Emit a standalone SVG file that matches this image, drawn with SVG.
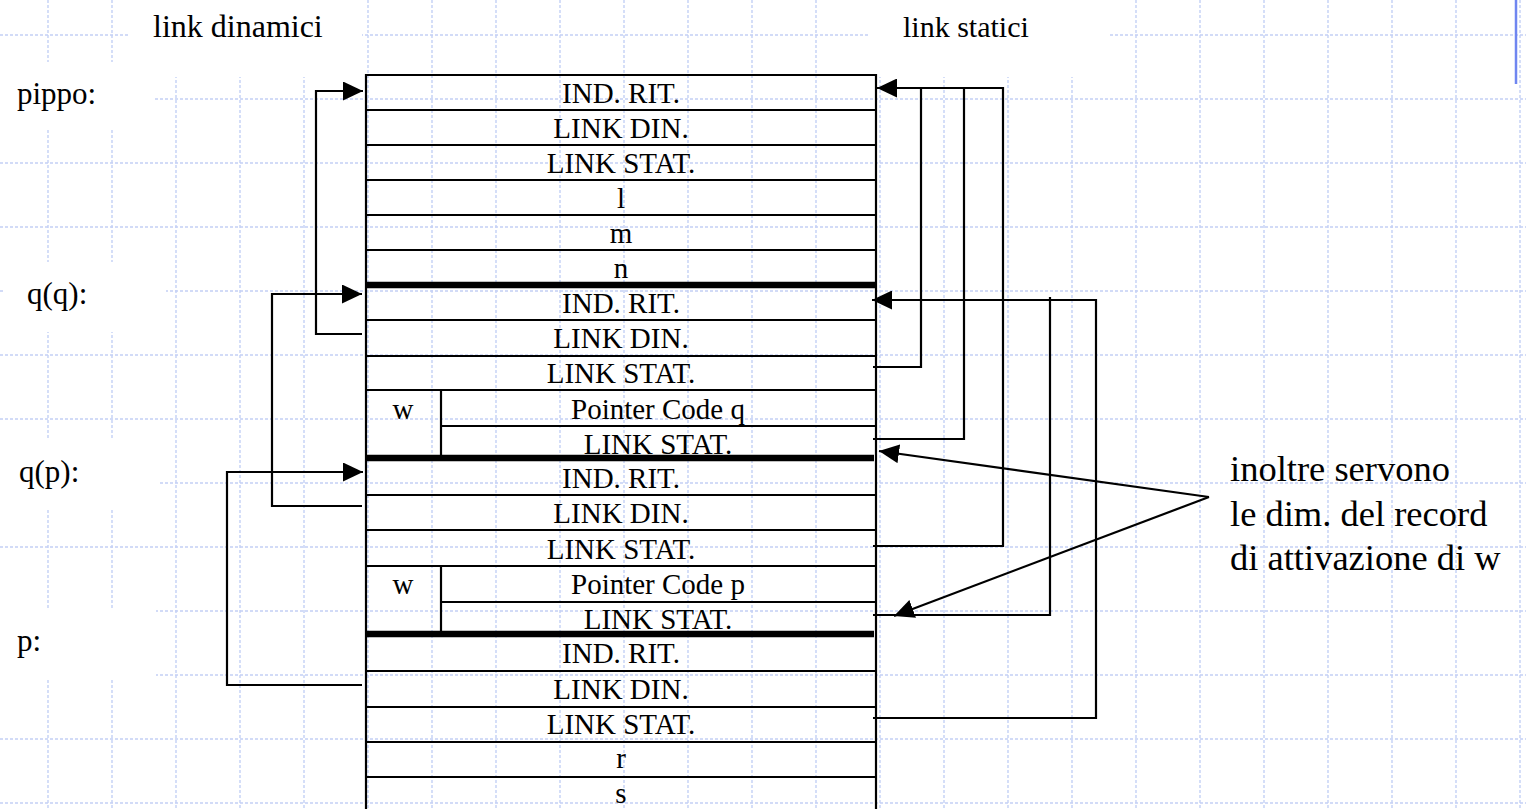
<svg xmlns="http://www.w3.org/2000/svg" width="1526" height="809" viewBox="0 0 1526 809">
  <defs>
    <style>
      .grid line { stroke: #c3d0f5; stroke-width: 1.4; stroke-dasharray: 3 2; }
      .mask { fill: #ffffff; stroke: none; }
      .cell { stroke: #000; stroke-width: 2.2; fill: none; }
      .thick { stroke: #000; stroke-width: 6.5; fill: none; }
      .t { font-family: "Liberation Serif", "Times New Roman", serif; font-size: 29px; fill: #000; text-anchor: middle; }
      .lbl { font-family: "Liberation Serif", "Times New Roman", serif; font-size: 31px; fill: #000; }
      .note { font-family: "Liberation Serif", "Times New Roman", serif; font-size: 36.5px; fill: #000; }
      .wire { stroke: #000; stroke-width: 2.2; fill: none; }
    </style>
    <marker id="head" markerUnits="userSpaceOnUse" markerWidth="20" markerHeight="19" refX="20" refY="9.5" orient="auto">
      <path d="M0,0 L20,9.5 L0,19 Z" fill="#000"/>
    </marker>
  </defs>

  <rect width="1526" height="809" fill="#ffffff"/>

  <!-- background grid -->
  <g id="grid" class="grid">
    <line x1="48" y1="0" x2="48" y2="809"/>
    <line x1="112" y1="0" x2="112" y2="809"/>
    <line x1="176" y1="0" x2="176" y2="809"/>
    <line x1="240" y1="0" x2="240" y2="809"/>
    <line x1="304" y1="0" x2="304" y2="809"/>
    <line x1="368" y1="0" x2="368" y2="809"/>
    <line x1="432" y1="0" x2="432" y2="809"/>
    <line x1="496" y1="0" x2="496" y2="809"/>
    <line x1="560" y1="0" x2="560" y2="809"/>
    <line x1="624" y1="0" x2="624" y2="809"/>
    <line x1="688" y1="0" x2="688" y2="809"/>
    <line x1="752" y1="0" x2="752" y2="809"/>
    <line x1="816" y1="0" x2="816" y2="809"/>
    <line x1="880" y1="0" x2="880" y2="809"/>
    <line x1="944" y1="0" x2="944" y2="809"/>
    <line x1="1008" y1="0" x2="1008" y2="809"/>
    <line x1="1072" y1="0" x2="1072" y2="809"/>
    <line x1="1136" y1="0" x2="1136" y2="809"/>
    <line x1="1200" y1="0" x2="1200" y2="809"/>
    <line x1="1264" y1="0" x2="1264" y2="809"/>
    <line x1="1328" y1="0" x2="1328" y2="809"/>
    <line x1="1392" y1="0" x2="1392" y2="809"/>
    <line x1="1456" y1="0" x2="1456" y2="809"/>
    <line x1="1520" y1="0" x2="1520" y2="809"/>
    <line x1="0" y1="35" x2="1526" y2="35"/>
    <line x1="0" y1="99" x2="1526" y2="99"/>
    <line x1="0" y1="163" x2="1526" y2="163"/>
    <line x1="0" y1="227" x2="1526" y2="227"/>
    <line x1="0" y1="291" x2="1526" y2="291"/>
    <line x1="0" y1="355" x2="1526" y2="355"/>
    <line x1="0" y1="419" x2="1526" y2="419"/>
    <line x1="0" y1="483" x2="1526" y2="483"/>
    <line x1="0" y1="547" x2="1526" y2="547"/>
    <line x1="0" y1="611" x2="1526" y2="611"/>
    <line x1="0" y1="675" x2="1526" y2="675"/>
    <line x1="0" y1="739" x2="1526" y2="739"/>
    <line x1="0" y1="803" x2="1526" y2="803"/>
  </g>

  <!-- opaque backgrounds of the text boxes -->
  <g id="label-boxes">
    <rect class="mask" x="130" y="0" width="232" height="77"/>
    <rect class="mask" x="870" y="0" width="238" height="77"/>
    <rect class="mask" x="0" y="62" width="155" height="68"/>
    <rect class="mask" x="5" y="262" width="161" height="70"/>
    <rect class="mask" x="0" y="440" width="158" height="68"/>
    <rect class="mask" x="0" y="610" width="156" height="70"/>
  </g>

  <line x1="1516" y1="0" x2="1516" y2="84" stroke="#6f86f0" stroke-width="2.5"/>

  <!-- column headers -->
  <g id="headers" class="lbl">
    <text x="153" y="37" font-size="32">link dinamici</text>
    <text x="903" y="37" font-size="30">link statici</text>
  </g>

  <!-- frame labels -->
  <g id="frame-labels" class="lbl">
    <text x="17" y="104">pippo:</text>
    <text x="27" y="304">q(q):</text>
    <text x="19" y="482">q(p):</text>
    <text x="17" y="651">p:</text>
  </g>

  <!-- stack outline -->
  <g id="stack">
    <line class="cell" x1="366" y1="74" x2="366" y2="809"/>
    <line class="cell" x1="876" y1="74" x2="876" y2="809"/>
  </g>

  <!-- activation record of pippo -->
  <g id="frame-pippo">
    <line class="cell" x1="365" y1="75" x2="877" y2="75"/>
    <line class="cell" x1="366" y1="110" x2="876" y2="110"/>
    <line class="cell" x1="366" y1="145" x2="876" y2="145"/>
    <line class="cell" x1="366" y1="180" x2="876" y2="180"/>
    <line class="cell" x1="366" y1="215" x2="876" y2="215"/>
    <line class="cell" x1="366" y1="250" x2="876" y2="250"/>
    <text class="t" x="621" y="103">IND. RIT.</text>
    <text class="t" x="621" y="138">LINK DIN.</text>
    <text class="t" x="621" y="173">LINK STAT.</text>
    <text class="t" x="621" y="208">l</text>
    <text class="t" x="621" y="243">m</text>
    <text class="t" x="621" y="278">n</text>
  </g>

  <!-- activation record of q called from pippo -->
  <g id="frame-qq">
    <line class="thick" x1="366" y1="285" x2="876" y2="285"/>
    <line class="cell" x1="366" y1="320" x2="876" y2="320"/>
    <line class="cell" x1="366" y1="356" x2="876" y2="356"/>
    <line class="cell" x1="366" y1="390" x2="876" y2="390"/>
    <line class="cell" x1="441" y1="426" x2="876" y2="426"/>
    <line class="cell" x1="441" y1="390" x2="441" y2="458"/>
    <text class="t" x="621" y="313">IND. RIT.</text>
    <text class="t" x="621" y="348">LINK DIN.</text>
    <text class="t" x="621" y="383">LINK STAT.</text>
    <text class="t" x="403" y="419">w</text>
    <text class="t" x="658" y="419">Pointer Code q</text>
    <text class="t" x="658" y="454">LINK STAT.</text>
  </g>

  <!-- activation record of q called from p -->
  <g id="frame-qp">
    <line class="thick" x1="366" y1="458" x2="874" y2="458"/>
    <line class="cell" x1="366" y1="495" x2="876" y2="495"/>
    <line class="cell" x1="366" y1="530" x2="876" y2="530"/>
    <line class="cell" x1="366" y1="566" x2="876" y2="566"/>
    <line class="cell" x1="441" y1="602" x2="876" y2="602"/>
    <line class="cell" x1="441" y1="566" x2="441" y2="634"/>
    <text class="t" x="621" y="488">IND. RIT.</text>
    <text class="t" x="621" y="523">LINK DIN.</text>
    <text class="t" x="621" y="559">LINK STAT.</text>
    <text class="t" x="403" y="594">w</text>
    <text class="t" x="658" y="594">Pointer Code p</text>
    <text class="t" x="658" y="629">LINK STAT.</text>
  </g>

  <!-- activation record of p -->
  <g id="frame-p">
    <line class="thick" x1="366" y1="634" x2="874" y2="634"/>
    <line class="cell" x1="366" y1="671" x2="876" y2="671"/>
    <line class="cell" x1="366" y1="707" x2="876" y2="707"/>
    <line class="cell" x1="366" y1="742" x2="876" y2="742"/>
    <line class="cell" x1="366" y1="777" x2="876" y2="777"/>
    <text class="t" x="621" y="663">IND. RIT.</text>
    <text class="t" x="621" y="699">LINK DIN.</text>
    <text class="t" x="621" y="734">LINK STAT.</text>
    <text class="t" x="621" y="768">r</text>
    <text class="t" x="621" y="803">s</text>
  </g>

  <!-- note on the right -->
  <g id="note" class="note">
    <text x="1230" y="481">inoltre servono</text>
    <text x="1230" y="526">le dim. del record</text>
    <text x="1230" y="570">di attivazione di w</text>
  </g>

  <!-- dynamic and static links -->
  <g id="connectors" class="wire">
    <path d="M362,334 H316 V91 H363" marker-end="url(#head)"/>
    <path d="M362,506 H272 V294 H362" marker-end="url(#head)"/>
    <path d="M362,685 H227 V472 H363" marker-end="url(#head)"/>

    <path d="M873,367 H921 V88"/>
    <path d="M873,439 H964 V88"/>
    <path d="M873,546 H1003 V88 H877" marker-end="url(#head)"/>

    <path d="M873,615 H1050 V297"/>
    <path d="M873,718 H1096 V300 H872" marker-end="url(#head)"/>

    <path d="M1209,497 L879,451" marker-end="url(#head)"/>
    <path d="M1209,497 L894,616" marker-end="url(#head)"/>
  </g>
</svg>
